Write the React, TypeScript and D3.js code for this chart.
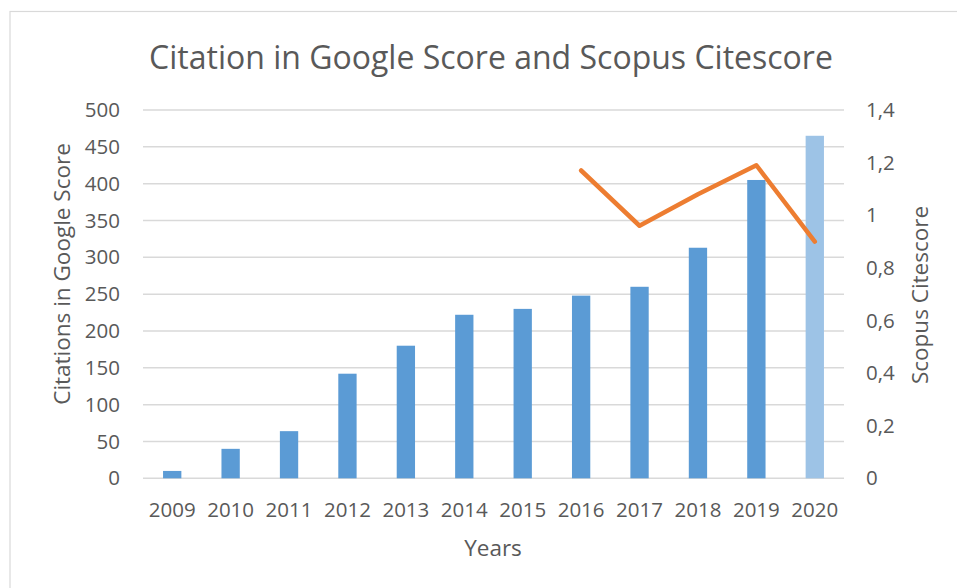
import React from "react";
import * as d3 from "d3";

const years = ["2009", "2010", "2011", "2012", "2013", "2014", "2015", "2016", "2017", "2018", "2019", "2020"];
const citations = [10, 40, 64, 142, 180, 222, 230, 248, 260, 313, 405, 465];
const citescoreYears = ["2016", "2017", "2018", "2019", "2020"];
const citescore = [1.17, 0.96, 1.08, 1.19, 0.9];
const leftTicks = [0, 50, 100, 150, 200, 250, 300, 350, 400, 450, 500];
const rightTicks = [0, 0.2, 0.4, 0.6, 0.8, 1, 1.2, 1.4];

const W = 957;
const H = 588;
const FONT = "'Open Sans', sans-serif";
const TXT = "#595959";
const GRID = "#d9d9d9";

export default function App() {
  const plot = { left: 143, right: 844, top: 110, bottom: 478.3 };
  const yL = d3.scaleLinear().domain([0, 500]).range([plot.bottom, plot.top]);
  const yR = d3.scaleLinear().domain([0, 1.4]).range([plot.bottom, plot.top]);
  const band = d3.scaleBand().domain(years).range([plot.left, plot.right]);
  const cx = (yr: string) => (band(yr) as number) + band.bandwidth() / 2;
  const line = d3
    .line<number>()
    .x((_, i) => cx(citescoreYears[i]))
    .y((d) => yR(d));
  const fmtR = (v: number) => String(+v.toFixed(1)).replace(".", ",");
  const bw = band.bandwidth() * 0.3135;

  return (
    <svg width={W} height={H} style={{ position: "absolute", left: 0, top: 0 }} fontFamily={FONT}>
      <rect x={0} y={0} width={W} height={H} fill="#fff" />
      <rect x={10} y={11.5} width={W + 20} height={H + 20} fill="#fff" stroke={GRID} strokeWidth={1.2} />
      <text x={491} y={69} textAnchor="middle" fontSize={32} fill={TXT}>
        Citation in Google Score and Scopus Citescore
      </text>
      {leftTicks.map((t) => (
        <line key={"g" + t} x1={plot.left} x2={plot.right} y1={yL(t)} y2={yL(t)} stroke={GRID} strokeWidth={1.5} />
      ))}
      {leftTicks.map((t) => (
        <text key={"l" + t} x={120} y={yL(t)} dy="0.35em" textAnchor="end" fontSize={20.5} fill={TXT}>
          {t}
        </text>
      ))}
      {rightTicks.map((t) => (
        <text key={"r" + t} x={866} y={yR(t)} dy="0.35em" textAnchor="start" fontSize={20.5} fill={TXT}>
          {fmtR(t)}
        </text>
      ))}
      {years.map((yr, i) => (
        <rect
          key={"b" + yr}
          x={cx(yr) - bw / 2}
          y={yL(citations[i])}
          width={bw}
          height={plot.bottom - yL(citations[i])}
          fill={yr === "2020" ? "#9DC3E6" : "#5B9BD5"}
        />
      ))}
      <path d={line(citescore) || ""} fill="none" stroke="#ED7D31" strokeWidth={4.5} strokeLinecap="round" strokeLinejoin="round" />
      {years.map((yr) => (
        <text key={"x" + yr} x={cx(yr)} y={510} dy="0.35em" textAnchor="middle" fontSize={20.5} fill={TXT}>
          {yr}
        </text>
      ))}
      <text x={493} y={548} dy="0.35em" textAnchor="middle" fontSize={22.5} fill={TXT}>
        Years
      </text>
      <text transform={`translate(62,274) rotate(-90)`} dy="0.35em" textAnchor="middle" fontSize={22.5} fill={TXT}>
        Citations in Google Score
      </text>
      <text transform={`translate(920,295) rotate(-90)`} dy="0.35em" textAnchor="middle" fontSize={22.5} fill={TXT}>
        Scopus Citescore
      </text>
    </svg>
  );
}
